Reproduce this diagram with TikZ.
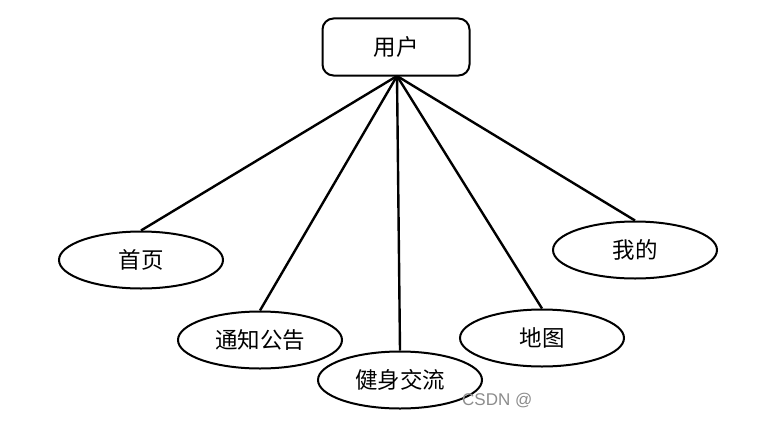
\documentclass[tikz,border=0pt]{standalone}
\usepackage{fontspec}
\newfontfamily\cjk{Noto Sans CJK SC}
\setsansfont{Liberation Sans}
\usetikzlibrary{shapes.geometric}
\begin{document}
\begin{tikzpicture}[x=1pt,y=-1pt,
  ent/.style={draw=black, line width=2pt, rounded corners=11pt, minimum width=147pt, minimum height=57pt, inner sep=0pt, font=\cjk\fontsize{22.5}{26}\selectfont},
  attr/.style={draw=black, line width=2pt, ellipse, minimum width=164pt, minimum height=57pt, inner sep=0pt, font=\cjk\fontsize{22.5}{26}\selectfont},
  link/.style={draw=black, line width=2.4pt}]
\useasboundingbox (0,0) rectangle (775,420);
\node[ent] (user) at (396,47) {用户};
\node[attr] (home) at (141,260) {首页};
\node[attr] (notice) at (260,340) {通知公告};
\node[attr] (fit) at (400,380) {健身交流};
\node[attr] (map) at (542,338) {地图};
\node[attr] (mine) at (635,250) {我的};
\coordinate (apex) at (397,76);
\draw[link] (apex) -- (home.north);
\draw[link] (apex) -- (notice.north);
\draw[link] (apex) -- (fit.north);
\draw[link] (apex) -- (map.north);
\draw[link] (apex) -- (mine.north);
\node[anchor=west, text=black!45, font=\sffamily\fontsize{17}{20}\selectfont, inner sep=0pt] (wm) at (462,401) {CSDN @};
\end{tikzpicture}
\end{document}
